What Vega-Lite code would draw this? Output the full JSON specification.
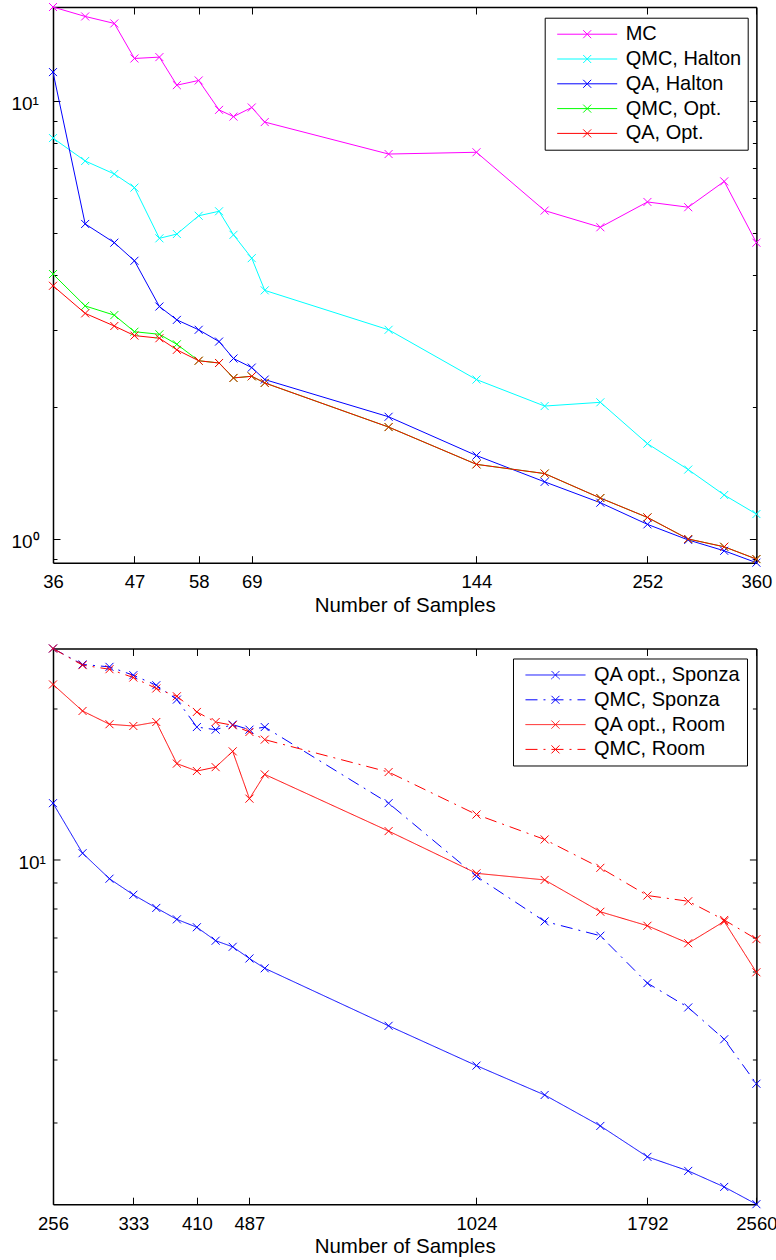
{
  "$schema": "https://vega.github.io/schema/vega-lite/v6.json",
  "padding": {"left": 11, "top": 1, "right": 0, "bottom": 0},
  "background": "white",
  "bounds": "flush",
  "spacing": 85.5,
  "resolve": {"scale": {"color": "independent", "strokeDash": "independent"}, "legend": {"color": "independent", "strokeDash": "independent"}},
  "datasets": {
    "top": [
      {"n":36,"err":16.34,"s":"MC"},{"n":40,"err":15.55,"s":"MC"},{"n":44,"err":14.99,"s":"MC"},{"n":47,"err":12.47,"s":"MC"},{"n":51,"err":12.56,"s":"MC"},{"n":54,"err":10.84,"s":"MC"},{"n":58,"err":11.11,"s":"MC"},{"n":62,"err":9.52,"s":"MC"},{"n":65,"err":9.19,"s":"MC"},{"n":69,"err":9.64,"s":"MC"},{"n":72,"err":8.93,"s":"MC"},{"n":108,"err":7.55,"s":"MC"},{"n":144,"err":7.62,"s":"MC"},{"n":180,"err":5.61,"s":"MC"},{"n":216,"err":5.14,"s":"MC"},{"n":252,"err":5.87,"s":"MC"},{"n":288,"err":5.71,"s":"MC"},{"n":324,"err":6.54,"s":"MC"},{"n":360,"err":4.74,"s":"MC"},
      {"n":36,"err":8.21,"s":"QMC, Halton"},{"n":40,"err":7.28,"s":"QMC, Halton"},{"n":44,"err":6.80,"s":"QMC, Halton"},{"n":47,"err":6.33,"s":"QMC, Halton"},{"n":51,"err":4.85,"s":"QMC, Halton"},{"n":54,"err":4.96,"s":"QMC, Halton"},{"n":58,"err":5.46,"s":"QMC, Halton"},{"n":62,"err":5.59,"s":"QMC, Halton"},{"n":65,"err":4.94,"s":"QMC, Halton"},{"n":69,"err":4.37,"s":"QMC, Halton"},{"n":72,"err":3.69,"s":"QMC, Halton"},{"n":108,"err":3.00,"s":"QMC, Halton"},{"n":144,"err":2.31,"s":"QMC, Halton"},{"n":180,"err":2.01,"s":"QMC, Halton"},{"n":216,"err":2.05,"s":"QMC, Halton"},{"n":252,"err":1.65,"s":"QMC, Halton"},{"n":288,"err":1.44,"s":"QMC, Halton"},{"n":324,"err":1.26,"s":"QMC, Halton"},{"n":360,"err":1.14,"s":"QMC, Halton"},
      {"n":36,"err":11.61,"s":"QA, Halton"},{"n":40,"err":5.23,"s":"QA, Halton"},{"n":44,"err":4.74,"s":"QA, Halton"},{"n":47,"err":4.31,"s":"QA, Halton"},{"n":51,"err":3.39,"s":"QA, Halton"},{"n":54,"err":3.16,"s":"QA, Halton"},{"n":58,"err":3.00,"s":"QA, Halton"},{"n":62,"err":2.82,"s":"QA, Halton"},{"n":65,"err":2.58,"s":"QA, Halton"},{"n":69,"err":2.46,"s":"QA, Halton"},{"n":72,"err":2.31,"s":"QA, Halton"},{"n":108,"err":1.90,"s":"QA, Halton"},{"n":144,"err":1.55,"s":"QA, Halton"},{"n":180,"err":1.35,"s":"QA, Halton"},{"n":216,"err":1.21,"s":"QA, Halton"},{"n":252,"err":1.08,"s":"QA, Halton"},{"n":288,"err":0.995,"s":"QA, Halton"},{"n":324,"err":0.94,"s":"QA, Halton"},{"n":360,"err":0.883,"s":"QA, Halton"},
      {"n":36,"err":4.02,"s":"QMC, Opt."},{"n":40,"err":3.40,"s":"QMC, Opt."},{"n":44,"err":3.24,"s":"QMC, Opt."},{"n":47,"err":2.97,"s":"QMC, Opt."},{"n":51,"err":2.93,"s":"QMC, Opt."},{"n":54,"err":2.78,"s":"QMC, Opt."},{"n":58,"err":2.55,"s":"QMC, Opt."},{"n":62,"err":2.52,"s":"QMC, Opt."},{"n":65,"err":2.33,"s":"QMC, Opt."},{"n":69,"err":2.35,"s":"QMC, Opt."},{"n":72,"err":2.27,"s":"QMC, Opt."},{"n":108,"err":1.80,"s":"QMC, Opt."},{"n":144,"err":1.48,"s":"QMC, Opt."},{"n":180,"err":1.41,"s":"QMC, Opt."},{"n":216,"err":1.24,"s":"QMC, Opt."},{"n":252,"err":1.12,"s":"QMC, Opt."},{"n":288,"err":1.00,"s":"QMC, Opt."},{"n":324,"err":0.96,"s":"QMC, Opt."},{"n":360,"err":0.90,"s":"QMC, Opt."},
      {"n":36,"err":3.78,"s":"QA, Opt."},{"n":40,"err":3.27,"s":"QA, Opt."},{"n":44,"err":3.06,"s":"QA, Opt."},{"n":47,"err":2.91,"s":"QA, Opt."},{"n":51,"err":2.87,"s":"QA, Opt."},{"n":54,"err":2.70,"s":"QA, Opt."},{"n":58,"err":2.55,"s":"QA, Opt."},{"n":62,"err":2.52,"s":"QA, Opt."},{"n":65,"err":2.33,"s":"QA, Opt."},{"n":69,"err":2.35,"s":"QA, Opt."},{"n":72,"err":2.27,"s":"QA, Opt."},{"n":108,"err":1.80,"s":"QA, Opt."},{"n":144,"err":1.48,"s":"QA, Opt."},{"n":180,"err":1.41,"s":"QA, Opt."},{"n":216,"err":1.24,"s":"QA, Opt."},{"n":252,"err":1.12,"s":"QA, Opt."},{"n":288,"err":1.00,"s":"QA, Opt."},{"n":324,"err":0.96,"s":"QA, Opt."},{"n":360,"err":0.90,"s":"QA, Opt."}
    ],
    "bottom": [
      {"n":256,"err":12.97,"s":"QA opt., Sponza"},{"n":282,"err":10.31,"s":"QA opt., Sponza"},{"n":308,"err":9.17,"s":"QA opt., Sponza"},{"n":333,"err":8.52,"s":"QA opt., Sponza"},{"n":359,"err":8.02,"s":"QA opt., Sponza"},{"n":384,"err":7.61,"s":"QA opt., Sponza"},{"n":410,"err":7.34,"s":"QA opt., Sponza"},{"n":436,"err":6.90,"s":"QA opt., Sponza"},{"n":461,"err":6.71,"s":"QA opt., Sponza"},{"n":487,"err":6.36,"s":"QA opt., Sponza"},{"n":512,"err":6.08,"s":"QA opt., Sponza"},{"n":768,"err":4.67,"s":"QA opt., Sponza"},{"n":1024,"err":3.89,"s":"QA opt., Sponza"},{"n":1280,"err":3.40,"s":"QA opt., Sponza"},{"n":1536,"err":2.95,"s":"QA opt., Sponza"},{"n":1792,"err":2.56,"s":"QA opt., Sponza"},{"n":2048,"err":2.40,"s":"QA opt., Sponza"},{"n":2304,"err":2.23,"s":"QA opt., Sponza"},{"n":2560,"err":2.06,"s":"QA opt., Sponza"},
      {"n":256,"err":26.37,"s":"QMC, Sponza"},{"n":282,"err":24.51,"s":"QMC, Sponza"},{"n":308,"err":24.24,"s":"QMC, Sponza"},{"n":333,"err":23.33,"s":"QMC, Sponza"},{"n":359,"err":22.28,"s":"QMC, Sponza"},{"n":384,"err":20.86,"s":"QMC, Sponza"},{"n":410,"err":18.39,"s":"QMC, Sponza"},{"n":436,"err":18.17,"s":"QMC, Sponza"},{"n":461,"err":18.60,"s":"QMC, Sponza"},{"n":487,"err":18.17,"s":"QMC, Sponza"},{"n":512,"err":18.39,"s":"QMC, Sponza"},{"n":768,"err":12.97,"s":"QMC, Sponza"},{"n":1024,"err":9.27,"s":"QMC, Sponza"},{"n":1280,"err":7.54,"s":"QMC, Sponza"},{"n":1536,"err":7.06,"s":"QMC, Sponza"},{"n":1792,"err":5.68,"s":"QMC, Sponza"},{"n":2048,"err":5.08,"s":"QMC, Sponza"},{"n":2304,"err":4.39,"s":"QMC, Sponza"},{"n":2560,"err":3.58,"s":"QMC, Sponza"},
      {"n":256,"err":22.36,"s":"QA opt., Room"},{"n":282,"err":19.80,"s":"QA opt., Room"},{"n":308,"err":18.63,"s":"QA opt., Room"},{"n":333,"err":18.48,"s":"QA opt., Room"},{"n":359,"err":18.82,"s":"QA opt., Room"},{"n":384,"err":15.55,"s":"QA opt., Room"},{"n":410,"err":15.03,"s":"QA opt., Room"},{"n":436,"err":15.30,"s":"QA opt., Room"},{"n":461,"err":16.45,"s":"QA opt., Room"},{"n":487,"err":13.24,"s":"QA opt., Room"},{"n":512,"err":14.80,"s":"QA opt., Room"},{"n":768,"err":11.41,"s":"QA opt., Room"},{"n":1024,"err":9.40,"s":"QA opt., Room"},{"n":1280,"err":9.12,"s":"QA opt., Room"},{"n":1536,"err":7.88,"s":"QA opt., Room"},{"n":1792,"err":7.39,"s":"QA opt., Room"},{"n":2048,"err":6.82,"s":"QA opt., Room"},{"n":2304,"err":7.54,"s":"QA opt., Room"},{"n":2560,"err":5.97,"s":"QA opt., Room"},
      {"n":256,"err":26.37,"s":"QMC, Room"},{"n":282,"err":24.43,"s":"QMC, Room"},{"n":308,"err":23.98,"s":"QMC, Room"},{"n":333,"err":23.08,"s":"QMC, Room"},{"n":359,"err":21.95,"s":"QMC, Room"},{"n":384,"err":21.18,"s":"QMC, Room"},{"n":410,"err":19.71,"s":"QMC, Room"},{"n":436,"err":18.82,"s":"QMC, Room"},{"n":461,"err":18.54,"s":"QMC, Room"},{"n":487,"err":17.98,"s":"QMC, Room"},{"n":512,"err":17.36,"s":"QMC, Room"},{"n":768,"err":14.96,"s":"QMC, Room"},{"n":1024,"err":12.31,"s":"QMC, Room"},{"n":1280,"err":10.98,"s":"QMC, Room"},{"n":1536,"err":9.64,"s":"QMC, Room"},{"n":1792,"err":8.49,"s":"QMC, Room"},{"n":2048,"err":8.27,"s":"QMC, Room"},{"n":2304,"err":7.59,"s":"QMC, Room"},{"n":2560,"err":6.95,"s":"QMC, Room"}
    ]
  },
  "vconcat": [
    {
      "width": 703.4,
      "height": 555.7,
      "data": {"name": "top"},
      "layer": [
        {
          "mark": {"type": "line", "strokeWidth": 1},
          "encoding": {
            "x": {"field": "n", "type": "quantitative",
              "scale": {"type": "log", "domain": [36, 360], "nice": false},
              "axis": {"orient": "bottom", "values": [36, 47, 58, 69, 144, 252, 360], "format": "d", "tickSize": -7, "labelPadding": 17.2, "labelFontSize": 18.5,
                "title": "Number of Samples", "titleFontSize": 20.5, "titleBaseline": "top", "titleY": 32.7}},
            "y": {"field": "err", "type": "quantitative",
              "scale": {"type": "log", "domain": [0.883, 16.34], "nice": false},
              "axis": {"orient": "left", "values": [1, 10], "labelExpr": "datum.value == 1 ? '10⁰' : '10¹'", "tickSize": -7, "labelPadding": 49,
                "labelAlign": "left", "labelBaseline": "middle", "labelOffset": 2.5, "labelFontSize": 19, "title": null}},
            "color": {"field": "s", "type": "nominal",
              "scale": {"domain": ["MC", "QMC, Halton", "QA, Halton", "QMC, Opt.", "QA, Opt."], "range": ["#ff00ff", "#00ffff", "#0000ff", "#00ff00", "#ff0000"]},
              "legend": {"orient": "none", "legendX": 491.7, "legendY": 10.7, "title": null,
                "symbolType": "M-0.4,0L5.6,0M2.6,0L3,-0.4M2.6,0L3,0.4M2.6,0L2.2,-0.4M2.6,0L2.2,0.4",
                "symbolSize": 400, "symbolStrokeWidth": 1, "labelOffset": 54, "labelFontSize": 20, "labelColor": "#000",
                "padding": 6, "rowPadding": 3.8, "strokeColor": "#000", "fillColor": "#fff", "labelLimit": 400}}
          }
        },
        {
          "mark": {"type": "point", "shape": "M-1,-1L1,1M-1,1L1,-1", "filled": false, "size": 64, "strokeWidth": 1, "opacity": 1},
          "encoding": {
            "x": {"field": "n", "type": "quantitative", "axis": null},
            "y": {"field": "err", "type": "quantitative", "axis": null},
            "color": {"field": "s", "type": "nominal", "legend": null}
          }
        },
        {
          "mark": {"type": "point", "opacity": 0},
          "encoding": {
            "x": {"field": "n", "type": "quantitative", "axis": {"orient": "top", "values": [36, 47, 58, 69, 144, 252, 360], "tickSize": -7, "labels": false, "title": null}},
            "y": {"field": "err", "type": "quantitative", "axis": {"orient": "right", "values": [1, 10], "tickSize": -7, "labels": false, "title": null}}
          }
        },
        {
          "mark": {"type": "point", "opacity": 0},
          "encoding": {
            "x": {"field": "n", "type": "quantitative", "axis": null},
            "y": {"field": "err", "type": "quantitative", "axis": {"orient": "left", "values": [0.9, 2, 3, 4, 5, 6, 7, 8, 9], "tickSize": -4, "labels": false, "domain": false, "title": null}}
          }
        },
        {
          "mark": {"type": "point", "opacity": 0},
          "encoding": {
            "x": {"field": "n", "type": "quantitative", "axis": null},
            "y": {"field": "err", "type": "quantitative", "axis": {"orient": "right", "values": [0.9, 2, 3, 4, 5, 6, 7, 8, 9], "tickSize": -4, "labels": false, "domain": false, "title": null}}
          }
        }
      ],
      "resolve": {"axis": {"x": "independent", "y": "independent"}}
    },
    {
      "width": 703.4,
      "height": 555.7,
      "data": {"name": "bottom"},
      "layer": [
        {
          "mark": {"type": "line", "strokeWidth": 1},
          "encoding": {
            "x": {"field": "n", "type": "quantitative",
              "scale": {"type": "log", "domain": [256, 2560], "nice": false},
              "axis": {"orient": "bottom", "values": [256, 333, 410, 487, 1024, 1792, 2560], "format": "d", "tickSize": -7, "labelPadding": 17.2, "labelFontSize": 18.5,
                "title": "Number of Samples", "titleFontSize": 20.5, "titleBaseline": "top", "titleY": 32.7}},
            "y": {"field": "err", "type": "quantitative",
              "scale": {"type": "log", "domain": [2.06, 26.37], "nice": false},
              "axis": {"orient": "left", "values": [10], "labelExpr": "'10¹'", "tickSize": -7, "labelPadding": 42,
                "labelAlign": "left", "labelBaseline": "middle", "labelOffset": 2.5, "labelFontSize": 19, "title": null}},
            "color": {"field": "s", "type": "nominal",
              "scale": {"domain": ["QA opt., Sponza", "QMC, Sponza", "QA opt., Room", "QMC, Room"], "range": ["#0000ff", "#0000ff", "#ff0000", "#ff0000"]},
              "legend": {"orient": "none", "legendX": 460, "legendY": 10, "title": null,
                "symbolType": "M-0.4,0L5.6,0M2.6,0L3,-0.4M2.6,0L3,0.4M2.6,0L2.2,-0.4M2.6,0L2.2,0.4",
                "symbolSize": 400, "symbolStrokeWidth": 1, "labelOffset": 54, "labelFontSize": 20, "labelColor": "#000",
                "padding": 6, "rowPadding": 3.8, "strokeColor": "#000", "fillColor": "#fff", "labelLimit": 400}},
            "strokeDash": {"field": "s", "type": "nominal",
              "scale": {"domain": ["QA opt., Sponza", "QMC, Sponza", "QA opt., Room", "QMC, Room"], "range": [[1, 0], [12, 6, 2, 6], [1, 0], [12, 6, 2, 6]]},
              "legend": {"orient": "none", "legendX": 460, "legendY": 10, "title": null,
                "symbolType": "M-0.4,0L5.6,0M2.6,0L3,-0.4M2.6,0L3,0.4M2.6,0L2.2,-0.4M2.6,0L2.2,0.4",
                "symbolSize": 400, "symbolStrokeWidth": 1, "labelOffset": 54, "labelFontSize": 20, "labelColor": "#000",
                "padding": 6, "rowPadding": 3.8, "strokeColor": "#000", "fillColor": "#fff", "labelLimit": 400}}
          }
        },
        {
          "mark": {"type": "point", "shape": "M-1,-1L1,1M-1,1L1,-1", "filled": false, "size": 64, "strokeWidth": 1, "opacity": 1},
          "encoding": {
            "x": {"field": "n", "type": "quantitative", "axis": null},
            "y": {"field": "err", "type": "quantitative", "axis": null},
            "color": {"field": "s", "type": "nominal", "legend": null}
          }
        },
        {
          "mark": {"type": "point", "opacity": 0},
          "encoding": {
            "x": {"field": "n", "type": "quantitative", "axis": {"orient": "top", "values": [256, 333, 410, 487, 1024, 1792, 2560], "tickSize": -7, "labels": false, "title": null}},
            "y": {"field": "err", "type": "quantitative", "axis": {"orient": "right", "values": [10], "tickSize": -7, "labels": false, "title": null}}
          }
        },
        {
          "mark": {"type": "point", "opacity": 0},
          "encoding": {
            "x": {"field": "n", "type": "quantitative", "axis": null},
            "y": {"field": "err", "type": "quantitative", "axis": {"orient": "left", "values": [3, 4, 5, 6, 7, 8, 9, 20], "tickSize": -4, "labels": false, "domain": false, "title": null}}
          }
        },
        {
          "mark": {"type": "point", "opacity": 0},
          "encoding": {
            "x": {"field": "n", "type": "quantitative", "axis": null},
            "y": {"field": "err", "type": "quantitative", "axis": {"orient": "right", "values": [3, 4, 5, 6, 7, 8, 9, 20], "tickSize": -4, "labels": false, "domain": false, "title": null}}
          }
        }
      ],
      "resolve": {"axis": {"x": "independent", "y": "independent"}}
    }
  ],
  "config": {
    "view": {"stroke": null},
    "font": "Liberation Sans",
    "axis": {"domainColor": "#000", "domainWidth": 1.5, "tickColor": "#000", "tickWidth": 1, "labelColor": "#000", "titleColor": "#000",
      "grid": false, "labelFont": "Liberation Sans", "titleFont": "Liberation Sans", "titleFontWeight": "normal", "labelOverlap": false, "labelFlush": false},
    "legend": {"labelFont": "Liberation Sans"}
  }
}
